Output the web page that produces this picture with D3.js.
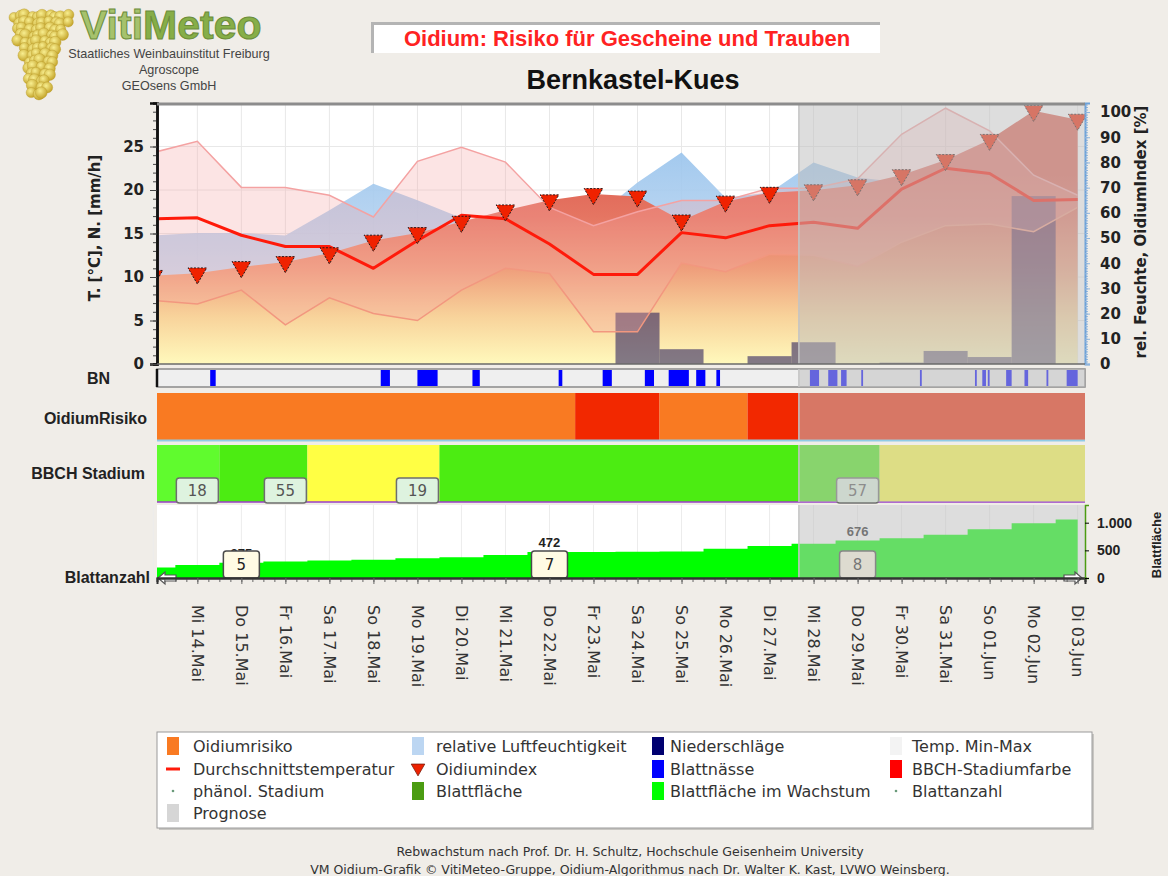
<!DOCTYPE html>
<html>
<head>
<meta charset="utf-8">
<title>Oidium Bernkastel-Kues</title>
<script src="https://cdn.jsdelivr.net/npm/d3@7"></script>
<style>
  body { margin: 0; background: #f0ede8; }
  svg { display: block; }
  text { font-family: "DejaVu Sans", Verdana, sans-serif; }
  .lbl { font-family: "Liberation Sans", Arial, sans-serif; font-weight: bold; }
</style>
</head>
<body>
<svg width="1168" height="876"></svg>
<script>
// values, one entry per day (13 May .. 3 Jun)
var days = ["2025-05-13", "2025-05-14", "2025-05-15", "2025-05-16", "2025-05-17", "2025-05-18",
            "2025-05-19", "2025-05-20", "2025-05-21", "2025-05-22", "2025-05-23", "2025-05-24",
            "2025-05-25", "2025-05-26", "2025-05-27", "2025-05-28", "2025-05-29", "2025-05-30",
            "2025-05-31", "2025-06-01", "2025-06-02", "2025-06-03"];
var tempMax = [24.3, 25.6, 20.3, 20.3, 19.4, 16.9, 23.3, 24.9, 23.2, 18.0, 15.9, 17.5, 18.8, 18.8, 20.2, 20.2, 21.3, 26.4, 29.4, 26.8, 21.7, 19.4];
var tempMin = [7.3, 6.9, 8.5, 4.5, 7.6, 5.8, 5.0, 8.5, 11.0, 10.4, 3.7, 3.7, 11.6, 10.6, 12.6, 12.5, 11.2, 14.0, 15.9, 16.1, 15.2, 18.0];
var tempAvg = [16.7, 16.8, 14.8, 13.5, 13.5, 11.0, 14.2, 17.1, 16.7, 13.8, 10.3, 10.3, 15.1, 14.5, 15.9, 16.3, 15.6, 20.1, 22.5, 21.9, 18.8, 18.9];
var humidity = [51, 52, 52, 51, 61, 71.5, 65, 58, 55, 52, 58, 72, 84, 66, 68, 80, 74, 72, 75, 80, 85, 72];
var oidiumIndex = [35, 36, 38.5, 40.5, 44, 49, 52, 56.5, 61, 65, 67.5, 66.5, 57, 64.5, 68, 69, 71, 75, 81, 89, 100.5, 97];
var rain = [0, 0, 0, 0, 0, 0, 0, 0, 0, 0, 0, 5.9, 1.7, 0, 0.9, 2.5, 0, 0.15, 1.5, 0.8, 19.3, 0];
var leafArea = [190, 235, 275, 300, 315, 328, 356, 374, 416, 472, 472, 475, 478, 530, 580, 620, 676, 720, 780, 880, 990, 1060];

// leaf wetness periods (start, end)
var leafWet = [
  ["2025-05-14T07", "2025-05-14T10"], ["2025-05-18T04", "2025-05-18T09"], ["2025-05-19T00", "2025-05-19T11"],
  ["2025-05-20T06", "2025-05-20T10"], ["2025-05-22T05", "2025-05-22T07"], ["2025-05-23T05", "2025-05-23T10"],
  ["2025-05-24T04", "2025-05-24T09"], ["2025-05-24T17", "2025-05-25T04"], ["2025-05-25T08", "2025-05-25T13"],
  ["2025-05-25T19", "2025-05-25T21"], ["2025-05-27T22", "2025-05-28T03"], ["2025-05-28T08", "2025-05-28T13"],
  ["2025-05-28T15", "2025-05-28T18"], ["2025-05-29T02", "2025-05-29T03"], ["2025-05-30T10", "2025-05-30T11"],
  ["2025-05-31T16", "2025-05-31T17"], ["2025-05-31T20", "2025-05-31T22"], ["2025-05-31T23", "2025-06-01T00"],
  ["2025-06-01T09", "2025-06-01T12"], ["2025-06-01T19", "2025-06-01T21"], ["2025-06-02T07", "2025-06-02T08"],
  ["2025-06-02T18", "2025-06-03T00"]
];

var riskStart = ["2025-05-13T00", "2025-05-22T14", "2025-05-24T12", "2025-05-26T12"];
var riskLevel = ["mittel", "hoch", "mittel", "hoch"];

var bbchStart = ["2025-05-13T00", "2025-05-14T12", "2025-05-16T12", "2025-05-19T12", "2025-05-29T12"];
var bbchPhase = ["frueh", "gruen", "gelb", "gruen", "gelb"];
var bbchLabelDays = ["2025-05-14", "2025-05-16", "2025-05-19", "2025-05-29"];
var bbchLabels = [18, 55, 19, 57];

var leafCountDays = ["2025-05-15", "2025-05-22", "2025-05-29"];
var leafCount = [5, 7, 8];

var prognoseStart = "2025-05-27T16";

var leftTicks = [0, 5, 10, 15, 20, 25];
var rightTicks = [0, 10, 20, 30, 40, 50, 60, 70, 80, 90, 100];
var leafTicks = [0, 500, 1000];

var legendItems = [
  {label: "Oidiumrisiko", sym: "rect", color: "#f97a22"},
  {label: "relative Luftfeuchtigkeit", sym: "rect", color: "url(#gradLegHum)"},
  {label: "Niederschläge", sym: "rect", color: "#000070"},
  {label: "Temp. Min-Max", sym: "rect", color: "#f3f3f3"},
  {label: "Durchschnittstemperatur", sym: "line", color: "#ff1a0a"},
  {label: "Oidiumindex", sym: "tri", color: "#ee2200"},
  {label: "Blattnässe", sym: "rect", color: "#0000ff"},
  {label: "BBCH-Stadiumfarbe", sym: "rect", color: "#ff0000"},
  {label: "phänol. Stadium", sym: "dot", color: "#6a9a7a"},
  {label: "Blattfläche", sym: "rect", color: "#4b9c12"},
  {label: "Blattfläche im Wachstum", sym: "rect", color: "#00ff00"},
  {label: "Blattanzahl", sym: "dot", color: "#6a9a7a"},
  {label: "Prognose", sym: "rect", color: "#d6d6d6"}
];

var riskColor = {mittel: "#f97a22", hoch: "#f22800"},
    bbchColor = {frueh: "#60fb2e", gruen: "#4cec12", gelb: "#ffff44"};

var svg = d3.select("svg"),
    left = 157, right = 1085,
    main = {top: 103, bottom: 364},
    bn = {top: 369, bottom: 387},
    risk = {top: 393, bottom: 440},
    bbch = {top: 445, bottom: 502},
    leaf = {top: 505, bottom: 578};

var parseDay = d3.timeParse("%Y-%m-%d"),
    parseHour = d3.timeParse("%Y-%m-%dT%H"),
    hour = 3600 * 1000;

var de = d3.timeFormatLocale({
  dateTime: "%A, %e. %B %Y, %X", date: "%d.%m.%Y", time: "%H:%M:%S", periods: ["AM", "PM"],
  days: ["Sonntag", "Montag", "Dienstag", "Mittwoch", "Donnerstag", "Freitag", "Samstag"],
  shortDays: ["So", "Mo", "Di", "Mi", "Do", "Fr", "Sa"],
  months: ["Januar", "Februar", "März", "April", "Mai", "Juni", "Juli", "August", "September", "Oktober", "November", "Dezember"],
  shortMonths: ["Jan", "Feb", "Mär", "Apr", "Mai", "Jun", "Jul", "Aug", "Sep", "Okt", "Nov", "Dez"]
});
var dayLabel = de.format("%a %d.%b"),
    numDe = d3.formatLocale({decimal: ",", thousands: ".", grouping: [3], currency: ["", " €"]}).format(",d");

var x = d3.scaleTime()
    .domain([parseHour("2025-05-13T02"), parseHour("2025-06-03T04")])
    .range([left, right]);
var yT = d3.scaleLinear().domain([0, 30]).range([main.bottom, main.top]),
    yP = d3.scaleLinear().domain([0, 103.6]).range([main.bottom, main.top]),
    yL = d3.scaleLinear().domain([0, 1320]).range([leaf.bottom, leaf.top]);

var rows = days.map(function(d, i) {
  return {date: parseDay(d), tmax: tempMax[i], tmin: tempMin[i], tavg: tempAvg[i],
          hum: humidity[i], idx: oidiumIndex[i], rain: rain[i], area: leafArea[i]};
});
var progStart = parseHour(prognoseStart),
    xEnd = x.domain()[1];

// ---------- defs ----------
var defs = svg.append("defs");
defs.append("clipPath").attr("id", "clipMain").append("rect")
    .attr("x", left).attr("y", main.top)
    .attr("width", right - left).attr("height", main.bottom - main.top);

function gradient(id, y1, y2, stops) {
  var g = defs.append("linearGradient").attr("id", id)
      .attr("gradientUnits", "userSpaceOnUse")
      .attr("x1", 0).attr("y1", y1).attr("x2", 0).attr("y2", y2);
  stops.forEach(function(s) {
    g.append("stop").attr("offset", s[0]).attr("stop-color", s[1]);
  });
}
gradient("gradRisk", main.bottom, 175, [[0, "#fff9bc"], [0.25, "#f8d39b"], [0.5, "#ef9f7c"], [0.78, "#e57562"], [1, "#e06556"]]);
gradient("gradHum", main.bottom, 150, [[0, "#e2ebf7"], [1, "#98c3ec"]]);
gradient("gradLegHum", 737, 756, [[0, "#bcd6f2"], [1, "#eef4fb"]]);

var berryGrad = defs.append("radialGradient").attr("id", "gradBerry")
    .attr("cx", "40%").attr("cy", "35%").attr("r", "65%");
berryGrad.append("stop").attr("offset", 0).attr("stop-color", "#f8ee90");
berryGrad.append("stop").attr("offset", 1).attr("stop-color", "#c4a42a");

// ---------- header ----------
var logo = svg.append("g");
for (var r = 0; r < 13; r++) {
  var y0 = 16 + r * 6.4,
      xa = r < 5 ? 15 + r * 1.2 : 24 + (r - 5) * 1.3,
      xb = r < 5 ? 68 - r * 2.6 : 54 - (r - 5) * 1.5,
      n = Math.max(1, Math.round((xb - xa) / 6.2));
  for (var k = 0; k <= n; k++) {
    logo.append("circle")
        .attr("cx", xa + (xb - xa) * k / n + (r % 2 ? 2 : -1) + Math.sin(k * 2.3 + r) * 1.6)
        .attr("cy", y0 + Math.cos(k * 1.7 + r * 0.9) * 1.4)
        .attr("r", 5 + Math.abs(Math.sin(k + r * 1.3)) * 0.9)
        .attr("fill", "url(#gradBerry)").attr("stroke", "#b89a2c").attr("stroke-width", 0.4);
  }
}
var brand = logo.append("text").attr("class", "lbl")
    .attr("x", 80).attr("y", 39).attr("font-size", 41)
    .attr("stroke", "#6b8c3a").attr("stroke-width", 1);
brand.append("tspan").attr("fill", "#a6c26c").text("Viti");
brand.append("tspan").attr("fill", "#86ae48").text("Meteo");
logo.selectAll(".sub")
    .data(["Staatliches Weinbauinstitut Freiburg", "Agroscope", "GEOsens GmbH"])
    .enter().append("text")
      .attr("x", 169).attr("y", function(d, i) { return 58 + i * 16; })
      .attr("text-anchor", "middle")
      .style("font-family", "'Liberation Sans', Arial, sans-serif")
      .attr("font-size", 12.6).attr("fill", "#444")
      .text(function(d) { return d; });

svg.append("rect").attr("x", 371).attr("y", 22).attr("width", 509).attr("height", 31).attr("fill", "#fff");
svg.append("path").attr("d", "M372.5,53 V23.5 H880")
    .attr("fill", "none").attr("stroke", "#b4b4b4").attr("stroke-width", 3);
svg.append("text").attr("class", "lbl")
    .attr("x", 627).attr("y", 46).attr("text-anchor", "middle")
    .attr("font-size", 22).attr("fill", "#ff2222")
    .text("Oidium: Risiko für Gescheine und Trauben");
svg.append("text").attr("class", "lbl")
    .attr("x", 633).attr("y", 89).attr("text-anchor", "middle")
    .attr("font-size", 27).attr("fill", "#111")
    .text("Bernkastel-Kues");

// ---------- main chart ----------
svg.append("rect").attr("x", left).attr("y", main.top)
    .attr("width", right - left).attr("height", main.bottom - main.top).attr("fill", "#fff");

var plot = svg.append("g").attr("clip-path", "url(#clipMain)");

plot.append("g").selectAll("line")
    .data(rows)
    .enter().append("line")
      .attr("x1", function(d) { return x(d.date); }).attr("x2", function(d) { return x(d.date); })
      .attr("y1", main.top).attr("y2", main.bottom)
      .attr("stroke", "#e8e8e8");
plot.append("g").selectAll("line")
    .data(leftTicks.slice(1))
    .enter().append("line")
      .attr("x1", left).attr("x2", right)
      .attr("y1", function(d) { return yT(d); }).attr("y2", function(d) { return yT(d); })
      .attr("stroke", "#e8e8e8");

plot.append("path")
    .datum(rows)
    .attr("fill", "url(#gradHum)").attr("opacity", 0.9)
    .attr("d", d3.area().x(function(d) { return x(d.date); })
        .y0(yP(0)).y1(function(d) { return yP(d.hum); }));

plot.append("path")
    .datum(rows)
    .attr("fill", "url(#gradRisk)")
    .attr("d", d3.area().x(function(d) { return x(d.date); })
        .y0(yP(0)).y1(function(d) { return yP(d.idx); }));

plot.append("g").selectAll("rect")
    .data(rows.filter(function(d) { return d.rain > 0; }))
    .enter().append("rect")
      .attr("x", function(d) { return x(new Date(+d.date - 12 * hour)); })
      .attr("width", function(d) { return x(new Date(+d.date + 12 * hour)) - x(new Date(+d.date - 12 * hour)); })
      .attr("y", function(d) { return yT(d.rain); })
      .attr("height", function(d) { return yT(0) - yT(d.rain); })
      .attr("fill", "#1c1058").attr("fill-opacity", 0.55);

plot.append("path")
    .datum(rows)
    .attr("fill", "#f6a6a6").attr("fill-opacity", 0.3)
    .attr("d", d3.area().x(function(d) { return x(d.date); })
        .y0(function(d) { return yT(d.tmin); }).y1(function(d) { return yT(d.tmax); }));
plot.append("path")
    .datum(rows)
    .attr("fill", "none").attr("stroke", "#f4a2a2").attr("stroke-width", 1.5)
    .attr("d", d3.line().x(function(d) { return x(d.date); }).y(function(d) { return yT(d.tmax); }));
plot.append("path")
    .datum(rows)
    .attr("fill", "none").attr("stroke", "#f2977f").attr("stroke-width", 1.5)
    .attr("d", d3.line().x(function(d) { return x(d.date); }).y(function(d) { return yT(d.tmin); }));

plot.append("path")
    .datum(rows)
    .attr("fill", "none").attr("stroke", "#ff1a0a").attr("stroke-width", 3)
    .attr("stroke-linejoin", "round")
    .attr("d", d3.line().x(function(d) { return x(d.date); }).y(function(d) { return yT(d.tavg); }));

plot.append("g").selectAll("path")
    .data(rows)
    .enter().append("path")
      .attr("transform", function(d) { return "translate(" + x(d.date) + "," + yP(d.idx) + ") rotate(180)"; })
      .attr("d", d3.symbol().type(d3.symbolTriangle).size(150))
      .attr("fill", "#f02200").attr("stroke", "#2a1a1a")
      .attr("stroke-width", 1).attr("stroke-dasharray", "2,1.5");

// ---------- BN strip ----------
svg.append("rect").attr("x", left).attr("y", bn.top)
    .attr("width", right - left).attr("height", bn.bottom - bn.top)
    .attr("fill", "#efefef").attr("stroke", "#8a8a8a").attr("stroke-width", 1.5);
svg.append("g").selectAll("rect")
    .data(leafWet)
    .enter().append("rect")
      .attr("x", function(d) { return x(parseHour(d[0])); })
      .attr("width", function(d) { return Math.max(1.5, x(parseHour(d[1])) - x(parseHour(d[0]))); })
      .attr("y", bn.top + 1).attr("height", bn.bottom - bn.top - 2)
      .attr("fill", "#0000ff");
svg.append("line").attr("x1", left).attr("x2", left).attr("y1", bn.top).attr("y2", bn.bottom)
    .attr("stroke", "#111").attr("stroke-width", 2.5);

// ---------- Oidium risk strip ----------
var riskRows = riskStart.map(function(d, i) {
  return {start: parseHour(d), end: i + 1 < riskStart.length ? parseHour(riskStart[i + 1]) : xEnd, level: riskLevel[i]};
});
svg.append("g").selectAll("rect")
    .data(riskRows)
    .enter().append("rect")
      .attr("x", function(d) { return Math.max(left, x(d.start)); })
      .attr("width", function(d) { return x(d.end) - Math.max(left, x(d.start)); })
      .attr("y", risk.top).attr("height", risk.bottom - risk.top)
      .attr("fill", function(d) { return riskColor[d.level]; });
svg.append("line").attr("x1", left).attr("x2", right).attr("y1", risk.bottom + 0.5).attr("y2", risk.bottom + 0.5)
    .attr("stroke", "#8fcbe6").attr("stroke-width", 2);

// ---------- BBCH strip ----------
var bbchRows = bbchStart.map(function(d, i) {
  return {start: parseHour(d), end: i + 1 < bbchStart.length ? parseHour(bbchStart[i + 1]) : xEnd, phase: bbchPhase[i]};
});
svg.append("g").selectAll("rect")
    .data(bbchRows)
    .enter().append("rect")
      .attr("x", function(d) { return Math.max(left, x(d.start)); })
      .attr("width", function(d) { return x(d.end) - Math.max(left, x(d.start)); })
      .attr("y", bbch.top).attr("height", bbch.bottom - bbch.top)
      .attr("fill", function(d) { return bbchColor[d.phase]; });
svg.append("line").attr("x1", left).attr("x2", right).attr("y1", bbch.bottom).attr("y2", bbch.bottom)
    .attr("stroke", "#9a3ec8").attr("stroke-width", 1.5);

var bbchBox = svg.append("g").selectAll("g")
    .data(bbchLabelDays.map(function(d, i) { return {date: parseDay(d), label: bbchLabels[i]}; }))
    .enter().append("g")
      .attr("transform", function(d) { return "translate(" + x(d.date) + "," + (bbch.bottom - 12) + ")"; });
bbchBox.append("rect")
    .attr("x", -21).attr("y", -12).attr("width", 42).attr("height", 25).attr("rx", 3)
    .attr("fill", "#def3df").attr("stroke", "#6e6e6e").attr("stroke-width", 1.5);
bbchBox.append("text")
    .attr("text-anchor", "middle").attr("dy", "0.38em")
    .attr("font-size", 15).attr("fill", "#555")
    .text(function(d) { return d.label; });

// ---------- leaf panel ----------
svg.append("rect").attr("x", left).attr("y", leaf.top)
    .attr("width", right - left).attr("height", leaf.bottom - leaf.top).attr("fill", "#fff");
svg.append("g").selectAll("line")
    .data(rows)
    .enter().append("line")
      .attr("x1", function(d) { return x(d.date); }).attr("x2", function(d) { return x(d.date); })
      .attr("y1", leaf.top).attr("y2", leaf.bottom)
      .attr("stroke", "#ececec");

defs.append("clipPath").attr("id", "clipLeaf").append("rect")
    .attr("x", left).attr("y", leaf.top).attr("width", right - left).attr("height", leaf.bottom - leaf.top);
svg.append("path")
    .datum(rows)
    .attr("clip-path", "url(#clipLeaf)")
    .attr("fill", "#00ff00")
    .attr("d", d3.area().curve(d3.curveStep)
        .x(function(d) { return x(d.date); })
        .y0(yL(0)).y1(function(d) { return yL(d.area); }));

var countRows = leafCountDays.map(function(d, i) {
  var dt = parseDay(d);
  var row = rows.filter(function(r) { return +r.date === +dt; })[0];
  return {date: dt, count: leafCount[i], area: row.area};
});
svg.append("g").selectAll("text")
    .data(countRows)
    .enter().append("text")
      .attr("x", function(d) { return x(d.date); })
      .attr("y", function(d) { return yL(d.area) - 5; })
      .attr("text-anchor", "middle").attr("class", "lbl")
      .attr("font-size", 13).attr("fill", "#222")
      .text(function(d) { return numDe(d.area); });
var countBox = svg.append("g").selectAll("g")
    .data(countRows)
    .enter().append("g")
      .attr("transform", function(d) { return "translate(" + x(d.date) + "," + (leaf.bottom - 14) + ")"; });
countBox.append("rect")
    .attr("x", -18).attr("y", -13).attr("width", 36).attr("height", 27).attr("rx", 3)
    .attr("fill", "#fffbe4").attr("stroke", "#4a4a4a").attr("stroke-width", 1.5);
countBox.append("text")
    .attr("text-anchor", "middle").attr("dy", "0.38em")
    .attr("font-size", 15).attr("fill", "#222")
    .text(function(d) { return d.count; });

// ---------- prognose overlay ----------
[main, bn, risk, bbch, leaf].forEach(function(p) {
  svg.append("rect")
      .attr("x", x(progStart)).attr("y", p.top)
      .attr("width", right - x(progStart)).attr("height", p.bottom - p.top)
      .attr("fill", "rgb(191,191,191)").attr("fill-opacity", 0.53);
  svg.append("line")
      .attr("x1", x(progStart)).attr("x2", x(progStart)).attr("y1", p.top).attr("y2", p.bottom)
      .attr("stroke", "#c4c4c4").attr("stroke-width", 1.5);
});

// arrows at the ends of the leaf panel
function arrow(cx, dir) {
  svg.append("path")
      .attr("d", "M" + cx + "," + leaf.bottom +
                 " l" + (dir * 7) + ",-6 v3 h" + (dir * 11) + " v6 h" + (-dir * 11) + " v3 z")
      .attr("fill", "#fff").attr("stroke", "#555").attr("stroke-width", 1.2);
}
arrow(left + 1, 1);
arrow(right - 3, -1);

// ---------- axes ----------
var axL = svg.append("g").attr("transform", "translate(" + left + ",0)");
axL.append("g").call(d3.axisLeft(yT).ticks(30).tickSize(4).tickFormat(""));
axL.append("g").call(d3.axisLeft(yT).tickValues(leftTicks).tickSize(7).tickPadding(6).tickFormat(d3.format("d")));
axL.selectAll(".domain").attr("stroke", "#111").attr("stroke-width", 2.5);
axL.selectAll(".tick line").attr("stroke", "#444");
axL.selectAll("text").attr("font-size", 15).attr("font-weight", "bold").attr("fill", "#222");

var axR = svg.append("g").attr("transform", "translate(" + right + ",0)");
axR.append("g").call(d3.axisRight(yP).ticks(100).tickSize(3).tickFormat(""));
axR.append("g").call(d3.axisRight(yP).tickValues(rightTicks).tickSize(5).tickPadding(10).tickFormat(d3.format("d")));
axR.selectAll(".domain").attr("stroke", "#6ea2d8").attr("stroke-width", 2).attr("stroke-dasharray", "2,2");
axR.selectAll(".tick line").attr("stroke", "#8fb4dc");
axR.selectAll("text").attr("font-size", 15).attr("font-weight", "bold").attr("fill", "#222");

svg.append("line").attr("x1", left).attr("x2", right).attr("y1", main.top + 1).attr("y2", main.top + 1)
    .attr("stroke", "#8c8c8c").attr("stroke-width", 3);
svg.append("line").attr("x1", left).attr("x2", right).attr("y1", main.bottom).attr("y2", main.bottom)
    .attr("stroke", "#6a6a6a").attr("stroke-width", 1.5);

var axLeaf = svg.append("g").attr("transform", "translate(0," + leaf.bottom + ")");
axLeaf.append("g").call(d3.axisBottom(x).ticks(d3.timeHour.every(6)).tickSize(4).tickFormat(""));
axLeaf.append("g").call(d3.axisBottom(x).ticks(d3.timeDay.every(1)).tickSize(6).tickFormat(""));
axLeaf.selectAll(".domain").attr("stroke", "#333").attr("stroke-width", 2);
axLeaf.selectAll(".tick line").attr("stroke", "#666");

var axLeafR = svg.append("g").attr("transform", "translate(" + right + ",0)")
    .call(d3.axisRight(yL).tickValues(leafTicks).tickSize(4).tickPadding(8).tickFormat(numDe));
axLeafR.select(".domain").attr("stroke", "#4b9c12").attr("stroke-width", 1.5);
axLeafR.selectAll("text").attr("class", "lbl").attr("font-size", 14).attr("fill", "#222");

svg.append("g").selectAll("text")
    .data(rows.slice(1))
    .enter().append("text")
      .attr("transform", function(d) { return "translate(" + x(d.date) + ",605) rotate(90)"; })
      .attr("dy", "0.36em")
      .attr("font-size", 16).attr("fill", "#333")
      .text(function(d) { return dayLabel(d.date); });

// ---------- axis titles and panel labels ----------
svg.append("text")
    .attr("transform", "translate(100,228) rotate(-90)")
    .attr("text-anchor", "middle").attr("font-size", 15).attr("font-weight", "bold").attr("fill", "#222")
    .text("T. [°C], N. [mm/h]");
svg.append("text")
    .attr("transform", "translate(1146,232) rotate(-90)")
    .attr("text-anchor", "middle").attr("font-size", 15).attr("font-weight", "bold").attr("fill", "#222")
    .text("rel. Feuchte, OidiumIndex [%]");
svg.append("text").attr("class", "lbl")
    .attr("transform", "translate(1161,545) rotate(-90)")
    .attr("text-anchor", "middle").attr("font-size", 13).attr("fill", "#222")
    .text("Blattfläche");

svg.append("g").selectAll("text")
    .data([["BN", 110, 384], ["OidiumRisiko", 147, 424], ["BBCH Stadium", 145, 479], ["Blattanzahl", 150, 583]])
    .enter().append("text")
      .attr("class", "lbl")
      .attr("x", function(d) { return d[1]; }).attr("y", function(d) { return d[2]; })
      .attr("text-anchor", "end").attr("font-size", 16).attr("fill", "#222")
      .text(function(d) { return d[0]; });

// ---------- legend ----------
svg.append("rect").attr("x", 159).attr("y", 734).attr("width", 935).attr("height", 96).attr("fill", "#c8c6c2");
svg.append("rect").attr("x", 157).attr("y", 732).attr("width", 935).attr("height", 96)
    .attr("fill", "#fff").attr("stroke", "#9a9a9a");

var colX = [167, 412, 652, 890],
    rowY = [746, 769, 791, 813];
var leg = svg.append("g").selectAll("g")
    .data(legendItems)
    .enter().append("g")
      .attr("transform", function(d, i) { return "translate(" + colX[i % 4] + "," + rowY[Math.floor(i / 4)] + ")"; });
leg.filter(function(d) { return d.sym === "rect"; }).append("rect")
    .attr("x", 0).attr("y", -9).attr("width", 12).attr("height", 18)
    .attr("fill", function(d) { return d.color; });
leg.filter(function(d) { return d.sym === "line"; }).append("line")
    .attr("x1", -1).attr("x2", 13).attr("y1", 0).attr("y2", 0)
    .attr("stroke", function(d) { return d.color; }).attr("stroke-width", 3);
leg.filter(function(d) { return d.sym === "tri"; }).append("path")
    .attr("transform", "translate(6,-1) rotate(180)")
    .attr("d", d3.symbol().type(d3.symbolTriangle).size(80))
    .attr("fill", function(d) { return d.color; }).attr("stroke", "#7a1a0a").attr("stroke-width", 0.8);
leg.filter(function(d) { return d.sym === "dot"; }).append("circle")
    .attr("cx", 6).attr("cy", 0).attr("r", 1.3)
    .attr("fill", function(d) { return d.color; });
leg.append("text")
    .attr("x", function(d, i) { return [26, 24, 18, 22][i % 4]; })
    .attr("dy", "0.36em").attr("font-size", 16).attr("fill", "#333")
    .text(function(d) { return d.label; });

// ---------- footer ----------
svg.append("g").selectAll("text")
    .data(["Rebwachstum nach Prof. Dr. H. Schultz, Hochschule Geisenheim University",
           "VM Oidium-Grafik © VitiMeteo-Gruppe, Oidium-Algorithmus nach Dr. Walter K. Kast, LVWO Weinsberg."])
    .enter().append("text")
      .attr("x", 630).attr("y", function(d, i) { return 856 + i * 18; })
      .attr("text-anchor", "middle").attr("font-size", 12.5).attr("fill", "#333")
      .text(function(d) { return d; });
</script>
</body>
</html>
